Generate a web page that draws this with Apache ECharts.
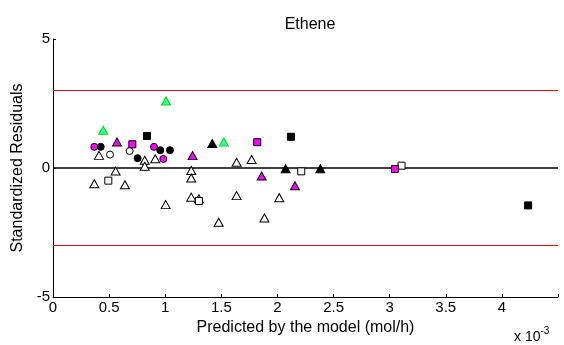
<!DOCTYPE html>
<html><head><meta charset="utf-8">
<script src="https://cdn.jsdelivr.net/npm/echarts@6/dist/echarts.min.js"></script>
<style>html,body{margin:0;padding:0;background:#fff}#c{width:564px;height:345px}</style>
</head><body><div id="c"></div>
<script>
// values: x in units of 1e-3 mol/h, y = standardized residuals
const openTriX = [0.41,0.817,0.817,0.911,0.558,0.368,0.641,1.232,1.232,1.232,1.004,1.30,1.636,1.770,1.636,2.016,1.476,1.884];
const openTriY = [0.49,0.30,0.07,0.36,-0.12,-0.61,-0.65,-0.10,-0.39,-1.13,-1.42,-1.19,0.22,0.33,-1.07,-1.15,-2.10,-1.94];
const blackTriX = [1.419,2.073,2.382];
const blackTriY = [0.95,-0.03,-0.03];
const magentaTriX = [0.570,1.244,1.859,2.156];
const magentaTriY = [1.01,0.48,-0.31,-0.69];
const greenTriX = [0.448,1.007,1.523];
const greenTriY = [1.46,2.60,1.01];
const openCircX = [0.508,0.683];
const openCircY = [0.52,0.66];
const blackCircX = [0.425,0.754,0.956,1.042];
const blackCircY = [0.82,0.38,0.69,0.69];
const magentaCircX = [0.368,0.90,0.983];
const magentaCircY = [0.82,0.82,0.35];
const openSqX = [0.493,1.30,2.212,3.106];
const openSqY = [-0.49,-1.28,-0.13,0.09];
const blackSqX = [0.837,2.120,4.234];
const blackSqY = [1.24,1.21,-1.45];
const magentaSqX = [0.707,1.820,3.047];
const magentaSqY = [0.92,1.00,-0.04];
const limitLines = [3, -3];
const xTicks = ['0','0.5','1','1.5','2','2.5','3','3.5','4'];

const zip = (a,b) => a.map((v,i) => [v,b[i]]);
const FONT = 'Liberation Sans, Arial, sans-serif';

function sc(name, xs, ys, symbol, size, fill, border) {
  return {
    name, type: 'scatter', data: zip(xs, ys), symbol, symbolSize: size,
    itemStyle: { color: fill, borderColor: border, borderWidth: 1, opacity: 1 },
    z: 5, silent: true, animation: false
  };
}

const chart = echarts.init(document.getElementById('c'), null, {renderer: 'canvas'});
const tri = [9, 8];
chart.setOption({
  animation: false,
  backgroundColor: '#fff',
  title: {
    text: 'Ethene', left: 305, top: 12, textAlign: 'center',
    textStyle: { fontFamily: FONT, fontSize: 16, fontWeight: 'normal', color: '#000' }
  },
  grid: { left: 53, right: 6, top: 39, bottom: 48 },
  xAxis: {
    type: 'value', min: 0, max: 4.5, interval: 0.5,
    name: 'Predicted by the model (mol/h)', nameLocation: 'middle', nameGap: 21,
    nameTextStyle: { fontFamily: FONT, fontSize: 16, color: '#000' },
    axisLine: { show: true, onZero: false, lineStyle: { color: '#000', width: 1 } },
    axisTick: { show: true, inside: true, length: 3, lineStyle: { color: '#000' } },
    splitLine: { show: false },
    axisLabel: {
      fontFamily: FONT, fontSize: 15, color: '#000', margin: 3,
      formatter: (v) => { const i = Math.round(v / 0.5); return i < xTicks.length ? xTicks[i] : ''; }
    }
  },
  yAxis: {
    type: 'value', min: -5, max: 5, interval: 5,
    name: 'Standardized Residuals', nameLocation: 'middle', nameGap: 26,
    nameTextStyle: { fontFamily: FONT, fontSize: 16, color: '#000' },
    axisLine: { show: true, onZero: false, lineStyle: { color: '#000', width: 1 } },
    axisTick: { show: true, inside: true, length: 3, lineStyle: { color: '#000' } },
    splitLine: { show: false },
    axisLabel: { fontFamily: FONT, fontSize: 15, color: '#000', margin: 3 }
  },
  graphic: [{
    type: 'text', left: 514, top: 326,
    style: {
      text: '{a|x 10}{b|-3}',
      rich: {
        a: { fontFamily: FONT, fontSize: 14, fill: '#000', verticalAlign: 'bottom' },
        b: { fontFamily: FONT, fontSize: 10, fill: '#000', verticalAlign: 'top', padding: [0,0,8,0] }
      }
    }
  }],
  series: [
    {
      type: 'line', data: [], silent: true, z: 2,
      markLine: {
        silent: true, symbol: 'none', animation: false, label: { show: false },
        data: [
          { yAxis: limitLines[0], lineStyle: { color: '#ff0000', width: 1, type: 'solid' } },
          { yAxis: limitLines[1], lineStyle: { color: '#ff0000', width: 1, type: 'solid' } },
          { yAxis: 0, lineStyle: { color: '#000', width: 1.6, type: 'solid' } }
        ]
      }
    },
    sc('openTri', openTriX, openTriY, 'triangle', tri, '#ffffff', '#000'),
    sc('openCirc', openCircX, openCircY, 'circle', 7, '#ffffff', '#000'),
    sc('openSq', openSqX, openSqY, 'rect', 7, '#ffffff', '#000'),
    sc('blackTri', blackTriX, blackTriY, 'triangle', tri, '#000', '#000'),
    sc('blackCirc', blackCircX, blackCircY, 'circle', 7, '#000', '#000'),
    sc('blackSq', blackSqX, blackSqY, 'rect', 7, '#000', '#000'),
    sc('magentaTri', magentaTriX, magentaTriY, 'triangle', tri, '#ff00ff', '#000'),
    sc('magentaCirc', magentaCircX, magentaCircY, 'circle', 7, '#ff00ff', '#000'),
    sc('magentaSq', magentaSqX, magentaSqY, 'rect', 7, '#ff00ff', '#000'),
    sc('greenTri', greenTriX, greenTriY, 'triangle', tri, '#33ffaa', '#00dd00')
  ]
});
</script></body></html>
